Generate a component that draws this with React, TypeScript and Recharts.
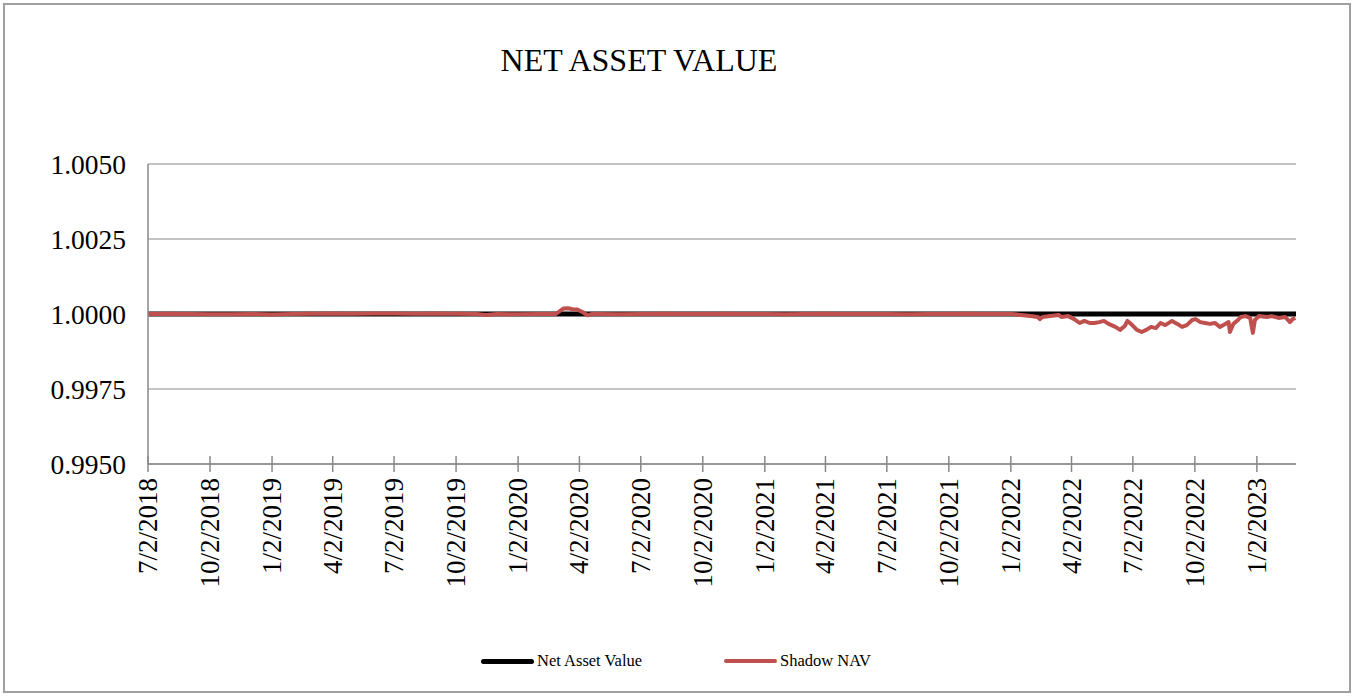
import React from "react";
import { LineChart, Line, XAxis, YAxis, CartesianGrid, Legend } from "recharts";

// quarterly tick labels on the date axis
const tickLabels = [
  "7/2/2018", "10/2/2018", "1/2/2019", "4/2/2019", "7/2/2019", "10/2/2019",
  "1/2/2020", "4/2/2020", "7/2/2020", "10/2/2020", "1/2/2021", "4/2/2021",
  "7/2/2021", "10/2/2021", "1/2/2022", "4/2/2022", "7/2/2022", "10/2/2022",
  "1/2/2023",
];

const yTicks = [0.995, 0.9975, 1.0, 1.0025, 1.005];

// Net Asset Value stays at 1.0000 the whole time
const navDates = ["2018-07-02", "2023-02-28"];
const navValues = [1.0, 1.0];

// Shadow NAV readings
const shadowDates = [
  "2018-07-02", "2018-08-01", "2018-09-04", "2018-10-01", "2018-11-01", "2018-12-03",
  "2019-01-02", "2019-02-01", "2019-03-01", "2019-04-01", "2019-05-01", "2019-06-03",
  "2019-07-01", "2019-08-01", "2019-09-03", "2019-10-01", "2019-11-01", "2019-11-15",
  "2019-12-02", "2020-01-02", "2020-02-03", "2020-02-27", "2020-03-09", "2020-03-16",
  "2020-03-23", "2020-03-30", "2020-04-07", "2020-04-14", "2020-04-21", "2020-05-01",
  "2020-06-01", "2020-07-01", "2020-08-03", "2020-09-01", "2020-10-01", "2020-11-02",
  "2020-12-01", "2021-01-04", "2021-02-01", "2021-03-01", "2021-04-01", "2021-05-03",
  "2021-06-01", "2021-07-01", "2021-08-02", "2021-09-01", "2021-10-01", "2021-11-01",
  "2021-12-01", "2022-01-03", "2022-01-17", "2022-01-31", "2022-02-11", "2022-02-14",
  "2022-02-18", "2022-03-01", "2022-03-14", "2022-03-18", "2022-03-28", "2022-04-06",
  "2022-04-14", "2022-04-21", "2022-04-29", "2022-05-06", "2022-05-13", "2022-05-20",
  "2022-05-27", "2022-06-06", "2022-06-13", "2022-06-20", "2022-06-24", "2022-07-01",
  "2022-07-08", "2022-07-15", "2022-07-22", "2022-07-29", "2022-08-05", "2022-08-12",
  "2022-08-19", "2022-08-29", "2022-09-06", "2022-09-13", "2022-09-20", "2022-09-28",
  "2022-10-03", "2022-10-10", "2022-10-17", "2022-10-24", "2022-11-01", "2022-11-08",
  "2022-11-16", "2022-11-21", "2022-11-23", "2022-11-28", "2022-12-05", "2022-12-09",
  "2022-12-16", "2022-12-23", "2022-12-27", "2022-12-30", "2023-01-05", "2023-01-17",
  "2023-01-24", "2023-02-03", "2023-02-13", "2023-02-20", "2023-02-24", "2023-02-28",
];
const shadowValues = [
  1.0, 1.00001, 1.0, 0.99999, 0.99999, 1.0,
  0.99998, 1.0, 1.00001, 1.00002, 1.00001, 1.00002,
  1.00002, 1.00001, 1.00002, 1.00001, 1.0, 0.99997,
  1.0, 0.99999, 1.0, 1.0, 1.00018, 1.00019,
  1.00016, 1.00015, 1.00006, 0.99996, 1.0, 1.0,
  0.99999, 1.0, 1.00001, 1.0, 1.0, 1.00001,
  1.0, 1.0, 0.99999, 1.0, 1.00001, 1.0,
  1.0, 1.0, 0.99999, 1.0, 1.0, 1.00001,
  1.0, 1.0, 0.99997, 0.99993, 0.9999, 0.99983,
  0.9999, 0.99993, 0.99997, 0.9999, 0.99993, 0.99983,
  0.9997, 0.99977, 0.9997, 0.9997, 0.99973, 0.99977,
  0.99967, 0.99957, 0.99947, 0.9996, 0.99977, 0.99963,
  0.99947, 0.9994, 0.99947, 0.99957, 0.99953, 0.9997,
  0.99963, 0.99977, 0.99967, 0.99957, 0.99963, 0.9998,
  0.99983, 0.99973, 0.9997, 0.99967, 0.9997, 0.99957,
  0.99967, 0.99973, 0.9994, 0.99967, 0.9998, 0.9999,
  0.99993, 0.99987, 0.99937, 0.9998, 0.99993, 0.9999,
  0.99993, 0.99987, 0.9999, 0.99973, 0.99983, 0.99987,
];

const DAY = 86400000;
const isoToDay = (s: string) => {
  const [y, m, d] = s.split("-").map(Number);
  return Date.UTC(y, m - 1, d) / DAY;
};
const usToDay = (s: string) => {
  const [m, d, y] = s.split("/").map(Number);
  return Date.UTC(y, m - 1, d) / DAY;
};

const xTicks = tickLabels.map(usToDay);
const labelByDay: Record<number, string> = {};
xTicks.forEach((t, i) => (labelByDay[t] = tickLabels[i]));

const navData = navDates.map((d, i) => ({ day: isoToDay(d), value: navValues[i] }));
const shadowData = shadowDates.map((d, i) => ({ day: isoToDay(d), value: shadowValues[i] }));

const FONT = "'Liberation Serif', 'Times New Roman', serif";
const GRAY = "#898989";
const RED = "#C0504D";

function DateTick(props: any) {
  const { x, y, payload } = props;
  const ty = y + 14;
  return (
    <g>
      <line x1={x} y1={y - 8} x2={x} y2={y + 8} stroke={GRAY} strokeWidth={1.5} />
      <text
        x={x}
        y={ty}
        transform={`rotate(-90 ${x} ${ty})`}
        textAnchor="end"
        dominantBaseline="central"
        fontFamily={FONT}
        fontSize={27}
        fill="#000"
      >
        {labelByDay[payload.value]}
      </text>
    </g>
  );
}

function LegendContent() {
  const items = [
    { name: "Net Asset Value", color: "#000", w: 5 },
    { name: "Shadow NAV", color: RED, w: 4.5 },
  ];
  return (
    <div style={{ display: "flex", fontFamily: FONT, fontSize: 16.5 }}>
      {items.map((it) => (
        <div key={it.name} style={{ width: 243, display: "flex", alignItems: "center" }}>
          <span
            style={{
              display: "inline-block",
              width: 53,
              height: it.w,
              borderRadius: 3,
              background: it.color,
              marginRight: 3,
            }}
          />
          <span>{it.name}</span>
        </div>
      ))}
    </div>
  );
}

export default function App() {
  return (
    <div style={{ position: "absolute", left: 0, top: 0, width: 1354, height: 696, background: "#fff" }}>
      <div
        style={{
          position: "absolute",
          left: 3,
          top: 3,
          width: 1348,
          height: 690,
          border: "2px solid #A0A0A0",
          boxSizing: "border-box",
        }}
      />
      <div
        style={{
          position: "absolute",
          left: 0,
          width: 1278,
          top: 40,
          textAlign: "center",
          fontFamily: FONT,
          fontSize: 32,
          lineHeight: "40px",
        }}
      >
        NET ASSET VALUE
      </div>
      <div style={{ position: "absolute", left: 0, top: 0 }}>
        <LineChart
          width={1354}
          height={696}
          margin={{ top: 164, right: 58, bottom: 102, left: 0 }}
        >
          <CartesianGrid vertical={false} stroke={GRAY} strokeWidth={1} />
          <XAxis
            dataKey="day"
            type="number"
            domain={[usToDay("7/2/2018"), isoToDay("2023-03-01")]}
            ticks={xTicks}
            allowDataOverflow
            height={130}
            stroke={GRAY}
            strokeWidth={1.5}
            tickLine={false}
            tickSize={0}
            tickMargin={0}
            interval={0}
            tick={<DateTick />}
          />
          <YAxis
            type="number"
            domain={[0.995, 1.005]}
            ticks={yTicks}
            width={148}
            stroke={GRAY}
            strokeWidth={1.5}
            tickLine={false}
            tickSize={0}
            tickMargin={22}
            tickFormatter={(v: number) => v.toFixed(4)}
            tick={{ fill: "#000", fontFamily: FONT, fontSize: 27.5 }}
          />
          <Legend
            verticalAlign="middle"
            align="center"
            layout="horizontal"
            wrapperStyle={{ top: 651, left: 481, width: 500 }}
            content={<LegendContent />}
          />
          <Line
            data={navData}
            dataKey="value"
            name="Net Asset Value"
            stroke="#000"
            strokeWidth={5}
            strokeLinecap="round"
            dot={false}
            isAnimationActive={false}
          />
          <Line
            data={shadowData}
            dataKey="value"
            name="Shadow NAV"
            stroke={RED}
            strokeWidth={4}
            strokeLinejoin="round"
            dot={false}
            isAnimationActive={false}
          />
        </LineChart>
      </div>
    </div>
  );
}
